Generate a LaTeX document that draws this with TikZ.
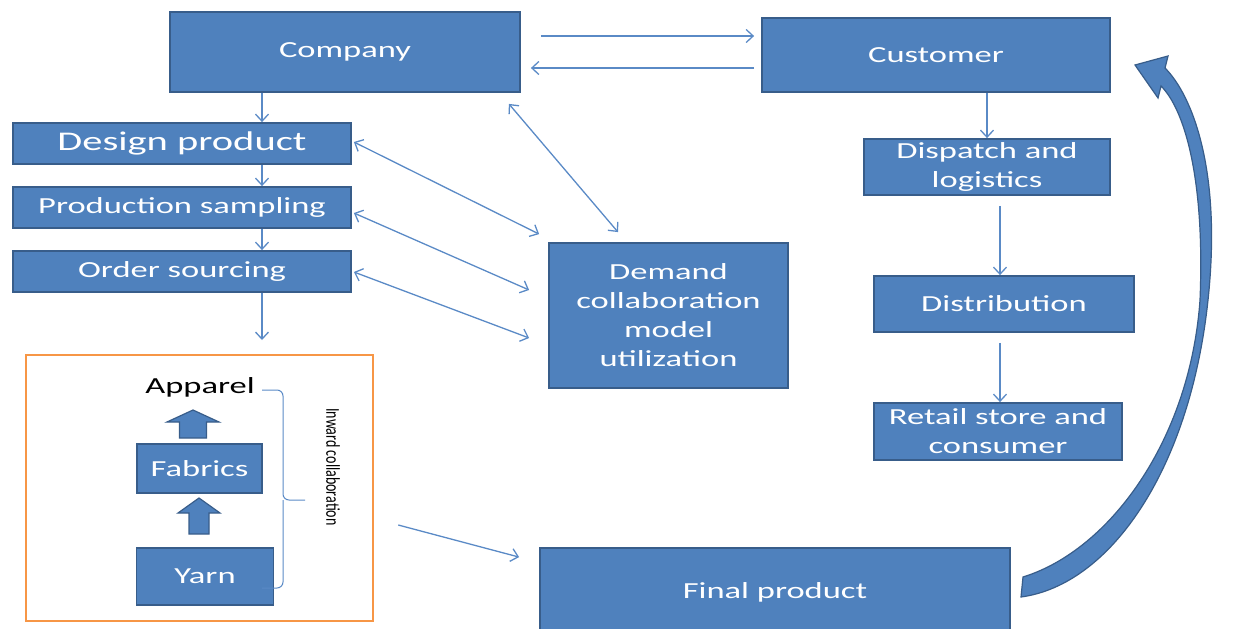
\documentclass[tikz,border=0pt]{standalone}
\usepackage{fontspec}
\setmainfont{Carlito}[FakeStretch=1.5]
\newfontfamily\inwfont{Carlito}
\usepackage{tikz}
\usetikzlibrary{%
  positioning
 ,arrows.meta
 ,calc
}
\definecolor{blkfill}{HTML}{4F81BD}
\definecolor{blkline}{HTML}{385D8A}
\definecolor{conline}{HTML}{5A8AC6}
\definecolor{rawline}{HTML}{F79646}
\tikzstyle{flow}=[x=1pt,y=-1pt,on grid,>={Straight Barb[length=7pt,width=13pt]}]
\tikzstyle{blk}=[rectangle,draw=blkline,fill=blkfill,line width=1.8pt,text=white,align=center,inner sep=0pt,font=\fontsize{23}{29}\selectfont]
\tikzstyle{con}=[draw=conline,line width=1.3pt]
\tikzstyle{dbl}=[con,<->]
\tikzstyle{upblk}=[fill=blkfill,draw=blkline,line width=1.2pt]

\begin{document}
\begin{tikzpicture}[flow]
  \useasboundingbox (0,0) rectangle (1258,629);
  \node[blk,minimum width=350pt,minimum height=80pt] (comp) at (345,52)    {Company};
  \node[blk,minimum width=348pt,minimum height=74pt] (cust) at (936,55)    {Customer};
  \node[blk,minimum width=338pt,minimum height=41pt,font=\fontsize{27}{30}\selectfont]
                                                     (des)  at (182,143.5) {Design product};
  \node[blk,minimum width=338pt,minimum height=41pt] (prod) [below=64pt of des]  {Production sampling};
  \node[blk,minimum width=338pt,minimum height=41pt] (ord)  [below=64pt of prod] {Order sourcing};
  \node[blk,minimum width=239pt,minimum height=145pt] (dem) at (668.5,315.5) {Demand\\collaboration\\model\\utilization};
  \node[blk,minimum width=246pt,minimum height=56pt] (dis)  at (987,167)   {Dispatch and\\logistics};
  \node[blk,minimum width=260pt,minimum height=56pt] (dist) at (1004,304)  {Distribution};
  \node[blk,minimum width=248pt,minimum height=57pt] (ret)  at (998,431.5) {Retail store and\\consumer};
  \node[blk,minimum width=470pt,minimum height=88pt] (fin)  at (775,592)   {Final product};
% 
  \node[draw=rawline,line width=2.5pt,minimum width=347pt,minimum height=266pt] (raw) at (199.5,488) {};
  \node[font=\fontsize{23}{29}\selectfont] (app) at (200,387) {Apparel};
  \node[blk,minimum width=125pt,minimum height=49pt] (fab)  at (199.5,468.5) {Fabrics};
  \node[blk,minimum width=137pt,minimum height=57pt] (yarn) at (205,576.5)   {Yarn};
  \draw[upblk] (179.5,438) -- (179.5,422) -- (167,422) -- (193,410) -- (219,422) -- (206.5,422) -- (206.5,438) -- cycle;
  \draw[upblk] (189,534) -- (189,513) -- (178,513) -- (199,498) -- (220,513) -- (209,513) -- (209,534) -- cycle;
  \draw[con,line width=1pt,rounded corners=6pt] (262,390) -| (283,500) -- (305,500);
  \draw[con,line width=1pt,rounded corners=6pt] (262,588) -| (283,500);
  \node[rotate=-90,font=\inwfont\fontsize{14}{16}\selectfont] (inw) at (333,467) {\scalebox{1}[1.4]{Inward collaboration}};
% 
  \coordinate (lcol) at (262,0);
  \coordinate (rcol) at (1000,0);
  \coordinate (ordend) at (262,340);
  \draw[con,->,shorten <=20pt,shorten >=7pt] ([yshift=16pt]comp.east) -- ([yshift=16pt]comp.east -| cust.west);
  \draw[con,->,shorten <=7pt,shorten >=10pt] ([yshift=-16pt]comp.east -| cust.west) -- ([yshift=-16pt]comp.east);
  \draw[con,->] (comp.south -| lcol) -- (des.north -| lcol);
  \draw[con,->] (des.south -| lcol)  -- (prod.north -| lcol);
  \draw[con,->] (prod.south -| lcol) -- (ord.north -| lcol);
  \draw[con,->] (ord.south -| lcol)  -- (ordend);
  \draw[dbl] ($(des.east)+(2,-1.5)$)  -- ($(dem.north west)+(-9,-8)$);
  \draw[dbl] ($(prod.east)+(2,5.5)$)  -- ($(dem.west)+(-19,-25.5)$);
  \draw[dbl] ($(ord.east)+(2,0.5)$)   -- ($(dem.west)+(-19,22.5)$);
  \draw[dbl] ($(comp.south east)+(-12,11)$) -- ($(dem.north)+(-50.5,-10)$);
  \draw[con,->] (dis.north |- cust.south) -- (dis.north);
  \draw[con,->,shorten <=10pt] (dis.south -| rcol)  -- (dist.north -| rcol);
  \draw[con,->,shorten <=10pt] (dist.south -| rcol) -- (ret.north -| rcol);
  \draw[con,->] ($(raw.east)+(24,37)$) -- ($(fin.north west)+(-20,10)$);
% 
  \draw[upblk] (1021,597) .. controls (1110,585) and (1190,470) .. (1208,300)
    .. controls (1222,170) and (1192,95) .. (1165,68) -- (1168,56) -- (1135,65) -- (1158,98) -- (1161,86)
    .. controls (1185,110) and (1205,180) .. (1200,300)
    .. controls (1190,440) and (1110,550) .. (1023,577) -- cycle;
\end{tikzpicture}
\end{document}
